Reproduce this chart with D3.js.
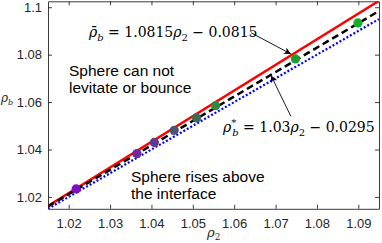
<!DOCTYPE html>
<html>
<head>
<meta charset="utf-8">
<script src="https://cdn.jsdelivr.net/npm/d3@7"></script>
<style>
  body { margin: 0; background: #fff; }
  svg { display: block; }
</style>
</head>
<body>
<script>
// points (rho_2, rho_b)
var rho2 = [1.0218, 1.0365, 1.0407, 1.0455, 1.0509, 1.0555, 1.0748, 1.0899];
var rhob = [1.0234, 1.0383, 1.0430, 1.0481, 1.0533, 1.0585, 1.0782, 1.0934];
var dotColors = ["#7d0fbf", "#6b2a9e", "#5c3a8c", "#4b5570", "#3f6a55", "#2e8a40", "#1e9e30", "#14b02a"];

// line end points [rho_2, rho_b]
var redLine = [[1.015, 1.0162], [1.095, 1.1027]];
var blackLine = [[1.015, 1.0160], [1.095, 1.0984]];
var blueLine = [[1.015, 1.015], [1.095, 1.095]];

var xTicks = [1.02, 1.03, 1.04, 1.05, 1.06, 1.07, 1.08, 1.09];
var yTicks = [1.02, 1.04, 1.06, 1.08, 1.1];

// annotation arrows, tail -> head, in data units
var arrows = [
  [[1.0641, 1.0892], [1.0737, 1.0803]],
  [[1.0737, 1.0540], [1.0689, 1.0712]]
];

var w = 382;
var h = 243;

var x = d3.scaleLinear().domain([1.015, 1.095]).range([48, 379]);
var y = d3.scaleLinear().domain([1.015, 1.1025]).range([208.8, 1.3]);

var svg = d3.select("body")
            .append("svg")
            .attr("width", w)
            .attr("height", h);

svg.append("defs").append("clipPath")
   .attr("id", "plotclip")
   .append("rect")
   .attr("x", 48).attr("y", 1.3)
   .attr("width", 331).attr("height", 207.5);

svg.append("defs").append("marker")
   .attr("id", "head")
   .attr("viewBox", "0 0 10 10")
   .attr("refX", 10).attr("refY", 5)
   .attr("markerWidth", 9).attr("markerHeight", 7)
   .attr("markerUnits", "userSpaceOnUse")
   .attr("orient", "auto")
   .append("path")
   .attr("d", "M0,0 L10,5 L0,10 L3,5 Z")
   .attr("fill", "#000");

// axes, ticks point inward
var axisColor = "#262626";
var fontSans = "'Liberation Sans', Arial, sans-serif";
var fontSerif = "'DejaVu Serif', 'Liberation Serif', serif";

function styleAxis(g) {
  g.select(".domain").attr("stroke", axisColor).attr("stroke-width", 0.9);
  g.selectAll(".tick line").attr("stroke", axisColor).attr("stroke-width", 0.9);
  g.selectAll("text").attr("fill", axisColor).style("font-family", fontSans).style("font-size", "13px");
}

svg.append("g")
   .attr("transform", "translate(0," + y.range()[0] + ")")
   .call(d3.axisBottom(x).tickValues(xTicks).tickSize(-4).tickSizeOuter(0).tickPadding(10)
         .tickFormat(d3.format(".2f")))
   .call(styleAxis);

svg.append("g")
   .attr("transform", "translate(0," + y.range()[1] + ")")
   .call(d3.axisTop(x).tickValues(xTicks).tickSize(-4).tickSizeOuter(0).tickFormat(""))
   .call(styleAxis);

svg.append("g")
   .attr("transform", "translate(" + x.range()[0] + ",0)")
   .call(d3.axisLeft(y).tickValues(yTicks).tickSize(-4).tickSizeOuter(0).tickPadding(6)
         .tickFormat(function(d){ return d === 1.1 ? "1.1" : d3.format(".2f")(d); }))
   .call(styleAxis);

svg.append("g")
   .attr("transform", "translate(" + x.range()[1] + ",0)")
   .call(d3.axisRight(y).tickValues(yTicks).tickSize(-4).tickSizeOuter(0).tickFormat(""))
   .call(styleAxis);

// lines
var line = d3.line()
             .x(function(d){ return x(d[0]); })
             .y(function(d){ return y(d[1]); });

var plot = svg.append("g").attr("clip-path", "url(#plotclip)");

plot.append("path")
    .attr("d", line(redLine))
    .attr("fill", "none")
    .attr("stroke", "#ff0000")
    .attr("stroke-width", 2.5);

plot.append("path")
    .attr("d", line(blackLine))
    .attr("fill", "none")
    .attr("stroke", "#000")
    .attr("stroke-width", 2.5)
    .attr("stroke-dasharray", "7,4");

plot.append("path")
    .attr("d", line(blueLine))
    .attr("fill", "none")
    .attr("stroke", "#0000ff")
    .attr("stroke-width", 2.2)
    .attr("stroke-dasharray", "2,2");

svg.selectAll("circle")
   .data(rho2)
   .enter()
   .append("circle")
   .attr("cx", function(d){ return x(d); })
   .attr("cy", function(d, i){ return y(rhob[i]); })
   .attr("r", 4.6)
   .attr("fill", function(d, i){ return dotColors[i]; });

// arrows
svg.selectAll("line.arrow")
   .data(arrows)
   .enter()
   .append("line")
   .attr("class", "arrow")
   .attr("x1", function(d){ return x(d[0][0]); })
   .attr("y1", function(d){ return y(d[0][1]); })
   .attr("x2", function(d){ return x(d[1][0]); })
   .attr("y2", function(d){ return y(d[1][1]); })
   .attr("stroke", "#000")
   .attr("stroke-width", 0.9)
   .attr("marker-end", "url(#head)");

// equations
var eq1 = svg.append("text")
   .attr("x", 89).attr("y", 37)
   .style("font-family", fontSerif).style("font-size", "14px");
eq1.append("tspan").style("font-style", "italic").text("ρ\u0304");
eq1.append("tspan").attr("dy", 4).style("font-style", "italic").style("font-size", "10px").text("b");
eq1.append("tspan").attr("dy", -4).text(" = 1.0815");
eq1.append("tspan").style("font-style", "italic").text("ρ");
eq1.append("tspan").attr("dy", 4).style("font-size", "10px").text("2");
eq1.append("tspan").attr("dy", -4).text(" \u2212 0.0815");

var eq2 = svg.append("text")
   .attr("x", 223).attr("y", 132)
   .style("font-family", fontSerif).style("font-size", "14px");
eq2.append("tspan").style("font-style", "italic").text("ρ");
eq2.append("tspan").attr("dy", -6).style("font-size", "10px").text("*");
eq2.append("tspan").attr("dx", -4).attr("dy", 10).style("font-style", "italic").style("font-size", "10px").text("b");
eq2.append("tspan").attr("dy", -4).text(" = 1.03");
eq2.append("tspan").style("font-style", "italic").text("ρ");
eq2.append("tspan").attr("dy", 4).style("font-size", "10px").text("2");
eq2.append("tspan").attr("dy", -4).text(" \u2212 0.0295");

// region labels
function block(xp, yp, lines) {
  var t = svg.append("text")
     .attr("x", xp).attr("y", yp)
     .attr("fill", "#000")
     .style("font-family", fontSans).style("font-size", "15.5px");
  lines.forEach(function(s, i){
    t.append("tspan").attr("x", xp).attr("dy", i === 0 ? 0 : 17).text(s);
  });
}
block(69, 76, ["Sphere can not", "levitate or bounce"]);
block(131, 182, ["Sphere rises above", "the interface"]);

// axis labels
var yl = svg.append("text")
   .attr("x", 1).attr("y", 102)
   .style("font-family", fontSerif).style("font-size", "12px").attr("fill", axisColor);
yl.append("tspan").style("font-style", "italic").text("ρ");
yl.append("tspan").attr("dy", 3).style("font-style", "italic").style("font-size", "8px").text("b");

var xl = svg.append("text")
   .attr("x", 207).attr("y", 237)
   .style("font-family", fontSerif).style("font-size", "13px").attr("fill", axisColor);
xl.append("tspan").style("font-style", "italic").text("ρ");
xl.append("tspan").attr("dy", 3).style("font-size", "9px").text("2");
</script>
</body>
</html>
